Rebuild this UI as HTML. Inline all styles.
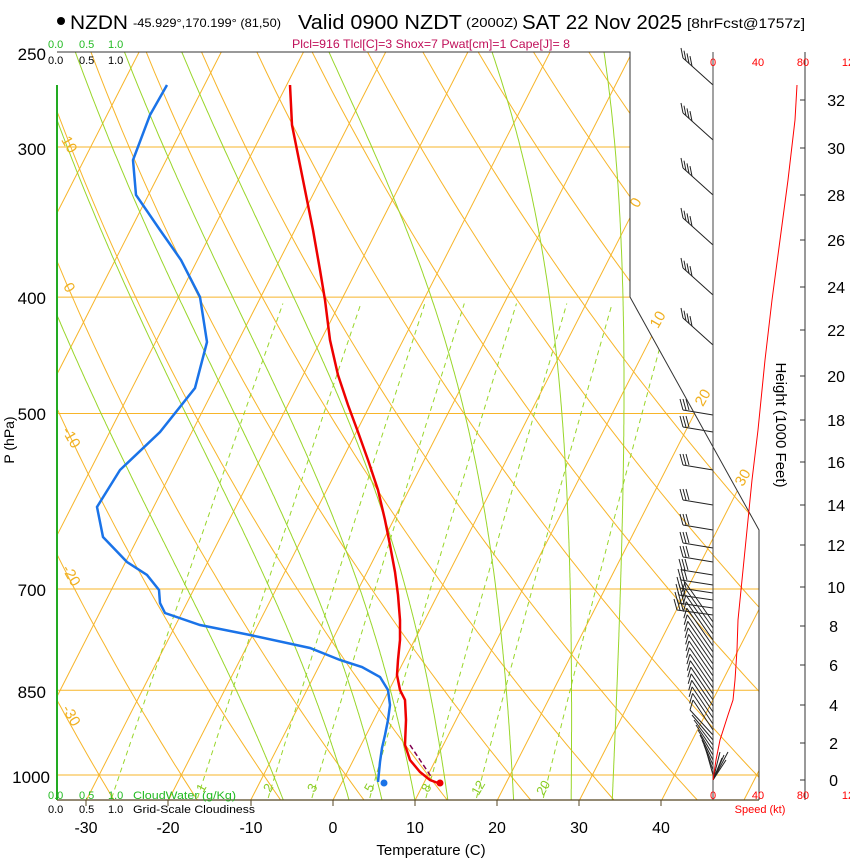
<!DOCTYPE html>
<html><head><meta charset="utf-8"><style>
html,body{margin:0;padding:0;background:#fff;}
svg{display:block;font-family:"Liberation Sans",sans-serif;}
</style></head><body>
<svg id="s" width="850" height="860" viewBox="0 0 850 860" xmlns="http://www.w3.org/2000/svg">
<defs><clipPath id="cp"><polygon points="57,52 630,52 630,297 759,530 759,800 57,800"/></clipPath></defs>
<rect width="850" height="860" fill="#fff"/>
<g id="grid" clip-path="url(#cp)" fill="none"></g>
<g id="bars" fill="none" stroke="#222" stroke-width="1"></g>
<!-- frame -->
<polyline points="57,52 630,52 630,297 759,530 759,800" fill="none" stroke="#333" stroke-width="1"/>
<line x1="57" y1="800" x2="759" y2="800" stroke="#554422" stroke-width="1.2"/>
<line x1="57" y1="85" x2="57" y2="800" stroke="#22aa22" stroke-width="2"/>
<line x1="713" y1="52" x2="713" y2="800" stroke="#444" stroke-width="1"/>
<line x1="805" y1="52" x2="805" y2="800" stroke="#333" stroke-width="1"/>
<g stroke="#554422"><line x1="86" y1="800" x2="86" y2="806"/><line x1="168" y1="800" x2="168" y2="806"/><line x1="251" y1="800" x2="251" y2="806"/><line x1="333" y1="800" x2="333" y2="806"/><line x1="415" y1="800" x2="415" y2="806"/><line x1="497" y1="800" x2="497" y2="806"/><line x1="579" y1="800" x2="579" y2="806"/><line x1="661" y1="800" x2="661" y2="806"/></g>
<g stroke="#333"><line x1="800" y1="100" x2="805" y2="100"/><line x1="800" y1="148" x2="805" y2="148"/><line x1="800" y1="195" x2="805" y2="195"/><line x1="800" y1="240" x2="805" y2="240"/><line x1="800" y1="287" x2="805" y2="287"/><line x1="800" y1="330" x2="805" y2="330"/><line x1="800" y1="376" x2="805" y2="376"/><line x1="800" y1="420" x2="805" y2="420"/><line x1="800" y1="462" x2="805" y2="462"/><line x1="800" y1="505" x2="805" y2="505"/><line x1="800" y1="545" x2="805" y2="545"/><line x1="800" y1="587" x2="805" y2="587"/><line x1="800" y1="626" x2="805" y2="626"/><line x1="800" y1="665" x2="805" y2="665"/><line x1="800" y1="705" x2="805" y2="705"/><line x1="800" y1="743" x2="805" y2="743"/><line x1="800" y1="780" x2="805" y2="780"/></g>
<!-- speed curve -->
<polyline points="713,780 716,760 720,740 728,715 733,700 735,680 737,650 738,620 740,600 744,560 748,520 752,480 758,430 765,360 772,300 780,240 788,180 795,120 797,85" fill="none" stroke="#ff0000" stroke-width="1"/>
<!-- dewpoint -->
<polyline points="167,85 150,115 133,160 136,195 160,230 181,260 200,297 207,342 195,388 160,432 120,470 97,507 103,537 127,562 147,575 159,590 160,603 165,613 200,625 250,635 310,648 340,660 362,667 380,677 388,690 390,705 388,720 385,735 382,748 380,762 378,782" fill="none" stroke="#1a73e8" stroke-width="2.5"/>
<circle cx="384" cy="783" r="3.5" fill="#1a73e8"/>
<!-- temp -->
<polyline points="410,745 420,760 432,778" fill="none" stroke="#800050" stroke-width="1.5" stroke-dasharray="5,3"/>
<polyline points="290,85 292,125 297,150 305,190 313,230 320,270 325,300 330,340 338,375 348,405 358,432 368,460 378,490 385,520 390,545 395,572 398,595 400,620 400,640 398,660 397,675 400,690 405,700 406,720 405,745 410,760 420,772 430,780 438,783" fill="none" stroke="#ee0000" stroke-width="2.5"/>
<circle cx="440" cy="783" r="3.5" fill="#ee0000"/>
<!-- titles -->
<circle cx="61" cy="21" r="4" fill="#000"/>
<text x="70" y="29" font-size="19" textLength="58" lengthAdjust="spacingAndGlyphs">NZDN</text>
<text x="133" y="27" font-size="12" textLength="148" lengthAdjust="spacingAndGlyphs">-45.929°,170.199° (81,50)</text>
<text x="298" y="29" font-size="20" textLength="164" lengthAdjust="spacingAndGlyphs">Valid 0900 NZDT</text>
<text x="466" y="27" font-size="13" textLength="52" lengthAdjust="spacingAndGlyphs">(2000Z)</text>
<text x="522" y="29" font-size="20" textLength="160" lengthAdjust="spacingAndGlyphs">SAT 22 Nov 2025</text>
<text x="687" y="28" font-size="14" textLength="118" lengthAdjust="spacingAndGlyphs">[8hrFcst@1757z]</text>
<text x="292" y="48" font-size="12" fill="#c0105a" textLength="278" lengthAdjust="spacingAndGlyphs">Plcl=916 Tlcl[C]=3 Shox=7 Pwat[cm]=1 Cape[J]= 8</text>
<g font-size="11" fill="#22bb22"><text x="48" y="48">0.0</text><text x="79" y="48">0.5</text><text x="108" y="48">1.0</text></g>
<g font-size="11" fill="#000"><text x="48" y="64">0.0</text><text x="79" y="64">0.5</text><text x="108" y="64">1.0</text></g>
<g font-size="11" fill="#22bb22"><text x="48" y="799">0.0</text><text x="79" y="799">0.5</text><text x="108" y="799">1.0</text><text x="133" y="799" textLength="103" lengthAdjust="spacingAndGlyphs">CloudWater (g/Kg)</text></g>
<g font-size="11" fill="#000"><text x="48" y="813">0.0</text><text x="79" y="813">0.5</text><text x="108" y="813">1.0</text><text x="133" y="813" textLength="122" lengthAdjust="spacingAndGlyphs">Grid-Scale Cloudiness</text></g>
<g font-size="17" text-anchor="end"><text x="46" y="60">250</text><text x="46" y="155">300</text><text x="46" y="304">400</text><text x="46" y="420">500</text><text x="46" y="596">700</text><text x="46" y="698">850</text><text x="50" y="783">1000</text></g>
<text transform="translate(14,440) rotate(-90)" font-size="14" text-anchor="middle">P (hPa)</text>
<g font-size="16" text-anchor="middle"><text x="86" y="833">-30</text><text x="168" y="833">-20</text><text x="251" y="833">-10</text><text x="333" y="833">0</text><text x="415" y="833">10</text><text x="497" y="833">20</text><text x="579" y="833">30</text><text x="661" y="833">40</text></g>
<text x="431" y="855" font-size="15" text-anchor="middle">Temperature (C)</text>
<g font-size="16" text-anchor="end"><text x="845" y="106">32</text><text x="845" y="154">30</text><text x="845" y="201">28</text><text x="845" y="246">26</text><text x="845" y="293">24</text><text x="845" y="336">22</text><text x="845" y="382">20</text><text x="845" y="426">18</text><text x="845" y="468">16</text><text x="845" y="511">14</text><text x="845" y="551">12</text><text x="845" y="593">10</text><text x="838" y="632">8</text><text x="838" y="671">6</text><text x="838" y="711">4</text><text x="838" y="749">2</text><text x="838" y="786">0</text></g>
<text transform="translate(776,425) rotate(90)" font-size="15" text-anchor="middle">Height (1000 Feet)</text>
<g font-size="11" fill="#ff0000" text-anchor="middle"><text x="713" y="66">0</text><text x="758" y="66">40</text><text x="803" y="66">80</text><text x="848" y="66">12</text><text x="713" y="799">0</text><text x="758" y="799">40</text><text x="803" y="799">80</text><text x="848" y="799">12</text><text x="760" y="813">Speed (kt)</text></g>
<g font-size="15" fill="#f0b020" text-anchor="middle">
<text transform="translate(65,147) rotate(60)">10</text><text transform="translate(65,290) rotate(60)">0</text><text transform="translate(67,440) rotate(60)">-10</text><text transform="translate(67,578) rotate(60)">-20</text><text transform="translate(67,718) rotate(60)">-30</text>
<text transform="translate(640,205) rotate(-60)">0</text><text transform="translate(662,322) rotate(-60)">10</text><text transform="translate(707,400) rotate(-60)">20</text><text transform="translate(747,480) rotate(-60)">30</text></g>
<g font-size="13" fill="#88cc22" text-anchor="middle"><text transform="translate(205,790) rotate(-60)">1</text><text transform="translate(272,790) rotate(-60)">2</text><text transform="translate(316,790) rotate(-60)">3</text><text transform="translate(373,790) rotate(-60)">5</text><text transform="translate(430,790) rotate(-60)">8</text><text transform="translate(482,790) rotate(-60)">12</text><text transform="translate(547,790) rotate(-60)">20</text></g>
<script>
(function(){
var NS="http://www.w3.org/2000/svg",g=document.getElementById("grid"),b=document.getElementById("bars");
function Y(p){return 775-521.6*Math.log(1000/p);}
function X(T,y){return 333+8.22*T+0.51*(800-y);}
function pl(par,pts,col,w,dash){var e=document.createElementNS(NS,"polyline");e.setAttribute("points",pts.map(function(q){return q[0].toFixed(1)+","+q[1].toFixed(1)}).join(" "));e.setAttribute("stroke",col);e.setAttribute("stroke-width",w);e.setAttribute("fill","none");if(dash)e.setAttribute("stroke-dasharray",dash);par.appendChild(e);}
var OR="#f7b52a";
[300,400,500,700,850,1000].forEach(function(p){pl(g,[[57,Y(p)],[760,Y(p)]],OR,1);});
for(var T=-130;T<=50;T+=10)pl(g,[[X(T,800),800],[X(T,52),52]],OR,1);
for(var th=-30;th<=200;th+=10){var pts=[];for(var p=1060;p>=245;p-=10){var t=(th+273.15)*Math.pow(p/1000,0.2857)-273.15;var y=Y(p);pts.push([X(t,y),y]);}pl(g,pts,OR,1);}
function es(Tc){return 6.112*Math.exp(17.67*Tc/(Tc+243.5));}
[-6,2,6,10,14,22,29,34].forEach(function(T0){var T=T0+273.15,pts=[];for(var p=1050;p>=245;p-=2){var Tc=T-273.15,e=es(Tc),rs=0.622*e/(p-e);pts.push([X(Tc,Y(p)),Y(p)]);var d=(287*T+2.5e6*rs)/(p*(1005+2.5e6*2.5e6*rs*0.622/(287*T*T)));T-=2*d;}pl(g,pts,"#99d62a",1);});
[0.4,1,2,3,5,8,12,20].forEach(function(w){var pts=[];for(var p=1045;p>=400;p-=10){var e=w*p/(622+w),l=Math.log(e/6.112),Td=243.5*l/(17.67-l),y=Y(p);pts.push([X(Td,y),y]);}pl(g,pts,"#99d62a",1,"5,4");});
function line(x1,y1,x2,y2){pl(b,[[x1,y1],[x2,y2]],"#222",1);}
[85,140,195,245,295,345].forEach(function(y){line(713,y,683,y-27);for(var i=0;i<4;i++){var x=683+i*3,yy=y-27+i*2.7;line(x,yy,x-2,yy-10);}});
[415,432,470,505,530,548,562,575,585,593,600,608,615].forEach(function(y,i){var ex=683-(i>6?(i-6):0),ey=y-5;line(713,y,ex,ey);for(var k=0;k<3;k++){line(ex+k*3,ey,ex+k*3-3,ey-11);}});
for(var y=622;y<=730;y+=6){var t=(y-622)/108;var ex=685+t*8,ey=y-40+t*10;line(713,y,ex,ey);line(ex,ey,ex-3,ey+10);}
for(var y=735;y<=778;y+=5){line(713,y,690+(y-735)*0.4,y-25);}
[[720,752],[724,755],[728,752],[722,758],[726,760]].forEach(function(q){line(713,780,q[0],q[1]);});
})();
</script>
</svg>
</body></html>
